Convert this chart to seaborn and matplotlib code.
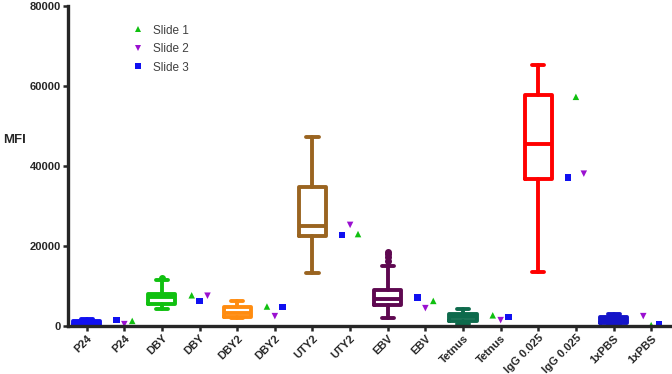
"""MFI by antigen: box plots with per-slide points"""

import matplotlib
matplotlib.use("Agg")
import matplotlib.pyplot as plt
import pandas as pd
import seaborn as sns

# categories on the x axis (box group, then its slide points)
groups = ["P24", "DBY", "DBY2", "UTY2", "EBV", "Tetnus", "IgG 0.025", "1xPBS"]
tick_labels = [g for g in groups for _ in (0, 1)]

# box summary statistics (MFI)
box_lo = [150, 4300, 2000, 13200, 2100, 500, 13600, 400]
box_q1 = [400, 5500, 2300, 22500, 5300, 1300, 36700, 800]
box_med = [800, 7200, 3400, 25100, 6800, 2200, 45400, 1600]
box_q3 = [1200, 8000, 4900, 34800, 9000, 3100, 57700, 2300]
box_hi = [1900, 11500, 6200, 47300, 15000, 4300, 65200, 3000]
box_fliers = [[], [12100], [], [], [16300, 17300, 18000, 18500], [], [], []]
box_colors = ["#1010f0", "#10c010", "#ff8c10", "#9a6420", "#5e0850",
              "#0e6a4c", "#ff0000", "#1414c8"]

# individual slide values (MFI)
slide1 = [1300, 7700, 4900, 23000, 6300, 2700, 57300, 250]
slide2 = [500, 7600, 2500, 25300, 4500, 1500, 38100, 2500]
slide3 = [1500, 6300, 4800, 22800, 7100, 2300, 37100, 500]
# horizontal spread slot of each slide inside a group (-1, 0, +1)
slot1 = [1, -1, -1, 1, 1, -1, 0, 0]
slot2 = [0, 1, 0, 0, 0, 0, 1, -1]
slot3 = [-1, 0, 1, -1, -1, 1, -1, 1]

slide_colors = {"Slide 1": "#10c010", "Slide 2": "#9a10d0", "Slide 3": "#1010f0"}
slide_markers = {"Slide 1": "^", "Slide 2": "v", "Slide 3": "s"}


def main():
    sns.set_style("ticks")
    plt.rcParams["font.family"] = ["Liberation Sans", "DejaVu Sans"]

    fig = plt.figure(figsize=(6.72, 3.74), dpi=100)
    ax = fig.add_axes([0.101, 0.128, 0.896, 0.856])

    # boxes at even positions
    for i in range(len(groups)):
        st = dict(med=box_med[i], q1=box_q1[i], q3=box_q3[i],
                  whislo=box_lo[i], whishi=box_hi[i], fliers=box_fliers[i])
        c = box_colors[i]
        ax.bxp([st], positions=[2 * i], widths=0.72, showfliers=True,
               boxprops=dict(color=c, linewidth=2.8),
               medianprops=dict(color=c, linewidth=2.8),
               whiskerprops=dict(color=c, linewidth=2.8),
               capprops=dict(color=c, linewidth=2.8),
               capwidths=0.32,
               flierprops=dict(marker="o", markerfacecolor=c,
                               markeredgecolor=c, markersize=4))

    # slide points at odd positions
    rows = []
    spread = 0.21
    for name, vals, slots in (("Slide 1", slide1, slot1),
                              ("Slide 2", slide2, slot2),
                              ("Slide 3", slide3, slot3)):
        for i, v in enumerate(vals):
            rows.append(dict(x=2 * i + 1 + spread * slots[i], MFI=v, slide=name))
    df = pd.DataFrame(rows)
    sns.scatterplot(data=df, x="x", y="MFI", hue="slide", style="slide",
                    palette=slide_colors, markers=slide_markers, s=22,
                    linewidth=0, ax=ax)

    ax.set_xlim(-0.5, 15.5)
    ax.set_ylim(0, 80000)
    ax.set_yticks([0, 20000, 40000, 60000, 80000])
    ax.set_xticks(range(len(tick_labels)))
    ax.set_xticklabels(tick_labels, rotation=45, ha="right",
                       rotation_mode="anchor", fontweight="bold", fontsize=8)
    for lab in ax.get_yticklabels():
        lab.set_fontweight("bold")
        lab.set_fontsize(8)
    ax.set_xlabel("")
    ax.set_ylabel("MFI", rotation=0, fontweight="bold", fontsize=9.5,
                  ha="left", va="center")
    ax.yaxis.set_label_coords(-0.108, 0.58)
    sns.despine(ax=ax)
    for sp in ("left", "bottom"):
        ax.spines[sp].set_linewidth(2.4)
    ax.tick_params(axis="both", width=1.8, length=3.5, pad=1.5)

    handles, labels = ax.get_legend_handles_labels()
    ax.legend(handles, labels, loc="upper left",
              bbox_to_anchor=(0.08, 0.975), frameon=False, fontsize=8.5,
              labelcolor="#404040", labelspacing=0.55, handletextpad=0.2,
              markerscale=0.9)

    fig.savefig("out.png", dpi=100)


if __name__ == "__main__":
    main()
